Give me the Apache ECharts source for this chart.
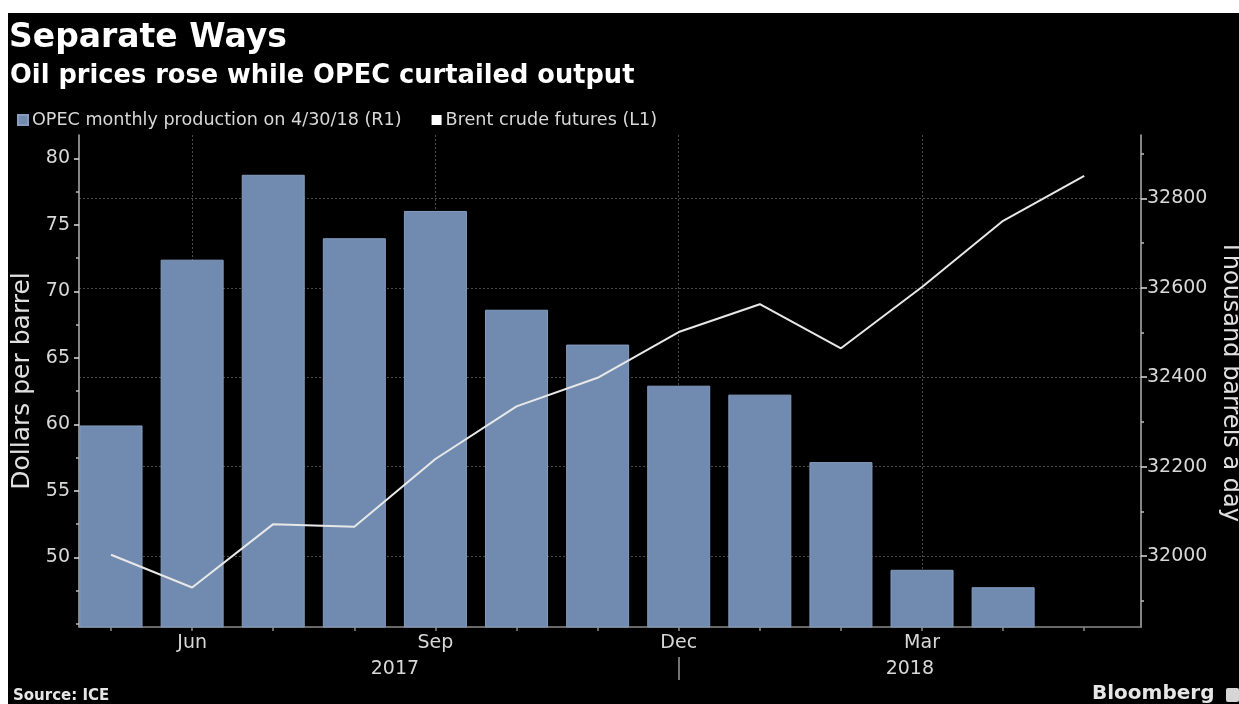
<!DOCTYPE html>
<html>
<head>
<meta charset="utf-8">
<script src="https://cdn.jsdelivr.net/npm/echarts@6/dist/echarts.min.js"></script>
<style>
html,body{margin:0;padding:0;background:#ffffff;}
#bg{position:absolute;left:8px;top:13px;width:1231px;height:691px;background:#000000;}
#chart{position:absolute;left:0;top:0;width:1239px;height:704px;}
</style>
</head>
<body>
<div id="bg"></div>
<div id="chart"></div>
<script>
// ---- data ----
const months = ['May','Jun','Jul','Aug','Sep','Oct','Nov','Dec','Jan','Feb','Mar','Apr','May'];
const opecProduction = [32292, 32663, 32853, 32711, 32772, 32551, 32473, 32381, 32361, 32210, 31969, 31930, null];
const brentFutures = [50.2, 47.74, 52.5, 52.3, 57.4, 61.35, 63.5, 66.94, 69.03, 65.72, 70.33, 75.3, 78.67];
const monthLabelIdx = [1, 4, 7, 10];
const yearBreakIdx = [7];
const yearLabelPos = [3.5, 9.85];
const yearLabels = ['2017', '2018'];
const leftTicks = [50, 55, 60, 65, 70, 75, 80];
const leftMinorTicks = [45, 47.5, 52.5, 57.5, 62.5, 67.5, 72.5, 77.5];
const rightTicks = [32000, 32200, 32400, 32600, 32800];
const rightMinorTicks = [31900, 32100, 32300, 32500, 32700, 32900];
const seriesNames = ['OPEC monthly production on 4/30/18 (R1)', 'Brent crude futures (L1)'];

// ---- chart ----
const FONT = 'DejaVu Sans';
const X_MIN = -0.395, X_MAX = 12.7;
const L_MIN = 44.77, L_MAX = 81.75;
const R_MIN = 31841, R_MAX = 32942;
const LABEL = '#d8d8d8';
const AXIS = '#b0b0b0';
const GRIDC = '#4a4a4a';

const chart = echarts.init(document.getElementById('chart'), null, {renderer: 'canvas'});
const option = {
  backgroundColor: 'transparent',
  animation: false,
  textStyle: {fontFamily: FONT},
  title: [
    {text: 'Separate Ways', left: 9, top: 22, padding: 0,
     textStyle: {color: '#ffffff', fontSize: 33, fontWeight: 'bold', fontFamily: FONT}},
    {text: 'Oil prices rose while OPEC curtailed output', left: 10, top: 63, padding: 0,
     textStyle: {color: '#ffffff', fontSize: 25.7, fontWeight: 'bold', fontFamily: FONT}},
    {text: 'Source: ICE', left: 13, top: 689, padding: 0,
     textStyle: {color: '#e6e6e6', fontSize: 15, fontWeight: 'bold', fontFamily: FONT}},
    {text: 'Bloomberg', left: 1092, top: 684, padding: 0,
     textStyle: {color: '#e6e6e6', fontSize: 20, fontWeight: 'bold', fontFamily: FONT}}
  ],
  legend: {
    left: 17, top: 111, padding: 0,
    itemWidth: 10, itemHeight: 10, itemGap: 30, icon: 'rect',
    textStyle: {color: LABEL, fontSize: 17.6, fontFamily: FONT, padding: [0, 0, 0, -1]},
    data: seriesNames
  },
  grid: {left: 79, right: 98, top: 135, bottom: 77, containLabel: false, outerBoundsMode: 'none'},
  xAxis: [
    {
      type: 'value', min: X_MIN, max: X_MAX, position: 'bottom',
      axisLine: {show: true, onZero: false, lineStyle: {color: '#8c8c8c', width: 1.5}},
      axisTick: {show: true, customValues: months.map((m, i) => i), length: 4,
                 lineStyle: {color: '#8c8c8c', width: 1.5}},
      axisLabel: {customValues: monthLabelIdx, formatter: v => months[Math.round(v)],
                  color: LABEL, fontSize: 19, margin: 7, fontFamily: FONT},
      splitLine: {show: false}
    },
    {
      type: 'value', min: X_MIN, max: X_MAX, position: 'bottom',
      axisLine: {show: false, onZero: false},
      axisTick: {show: false, customValues: monthLabelIdx},
      axisLabel: {show: false, customValues: monthLabelIdx},
      splitLine: {show: true, lineStyle: {color: GRIDC, type: [2, 2], width: 1}}
    },
    {
      type: 'value', min: X_MIN, max: X_MAX, position: 'bottom', offset: 30,
      axisLine: {show: false, onZero: false},
      axisTick: {show: true, customValues: yearBreakIdx, length: 23,
                 lineStyle: {color: '#9a9a9a', width: 1.5}},
      axisLabel: {customValues: yearLabelPos,
                  formatter: v => yearLabels[yearLabelPos.indexOf(v)],
                  color: LABEL, fontSize: 19, margin: 3, fontFamily: FONT},
      splitLine: {show: false}
    }
  ],
  yAxis: [
    {
      type: 'value', position: 'left', min: L_MIN, max: L_MAX,
      axisLine: {show: true, onZero: false, lineStyle: {color: AXIS, width: 1.5}},
      axisTick: {show: true, customValues: leftTicks, length: 5, lineStyle: {color: '#dddddd', width: 1.5}},
      axisLabel: {customValues: leftTicks, color: LABEL, fontSize: 19, margin: 9, fontFamily: FONT},
      splitLine: {show: false},
      name: 'Dollars per barrel', nameLocation: 'middle', nameGap: 44,
      nameTextStyle: {color: '#e0e0e0', fontSize: 25, fontFamily: FONT}
    },
    {
      type: 'value', position: 'right', min: R_MIN, max: R_MAX,
      axisLine: {show: true, onZero: false, lineStyle: {color: AXIS, width: 1.5}},
      axisTick: {show: true, customValues: rightTicks, length: 6, lineStyle: {color: '#dddddd', width: 1.5}},
      axisLabel: {customValues: rightTicks, formatter: v => String(v),
                  color: LABEL, fontSize: 19, margin: 6, fontFamily: FONT},
      splitLine: {show: true, lineStyle: {color: GRIDC, type: [2, 2], width: 1}},
      name: 'Thousand barrels a day', nameLocation: 'middle', nameGap: 74, nameRotate: -90,
      nameTextStyle: {color: '#e0e0e0', fontSize: 24, fontFamily: FONT}
    },
    {
      type: 'value', position: 'left', min: L_MIN, max: L_MAX,
      axisLine: {show: false, onZero: false},
      axisTick: {show: true, customValues: leftMinorTicks, length: 3, lineStyle: {color: '#bbbbbb', width: 1.5}},
      axisLabel: {show: false}, splitLine: {show: false}
    },
    {
      type: 'value', position: 'right', min: R_MIN, max: R_MAX,
      axisLine: {show: false, onZero: false},
      axisTick: {show: true, customValues: rightMinorTicks, length: 3, lineStyle: {color: '#bbbbbb', width: 1.5}},
      axisLabel: {show: false}, splitLine: {show: false}
    }
  ],
  graphic: [
    {type: 'rect', left: 1226, top: 688, shape: {width: 13, height: 14, r: 2},
     style: {fill: '#d6d6d6'}}
  ],
  series: [
    {
      name: seriesNames[0], type: 'bar', xAxisIndex: 0, yAxisIndex: 1, barWidth: 63,
      data: opecProduction.map((v, i) => [i, v]).filter(d => d[1] !== null),
      itemStyle: {color: '#718bb0', borderColor: '#859cbf', borderWidth: 1},
      z: 2
    },
    {
      name: seriesNames[1], type: 'line', xAxisIndex: 0, yAxisIndex: 0,
      data: brentFutures.map((v, i) => [i, v]),
      symbol: 'none', showSymbol: false,
      lineStyle: {color: '#e8e8e8', width: 2},
      itemStyle: {color: '#ffffff'},
      z: 5
    }
  ]
};
chart.setOption(option);
</script>
</body>
</html>
